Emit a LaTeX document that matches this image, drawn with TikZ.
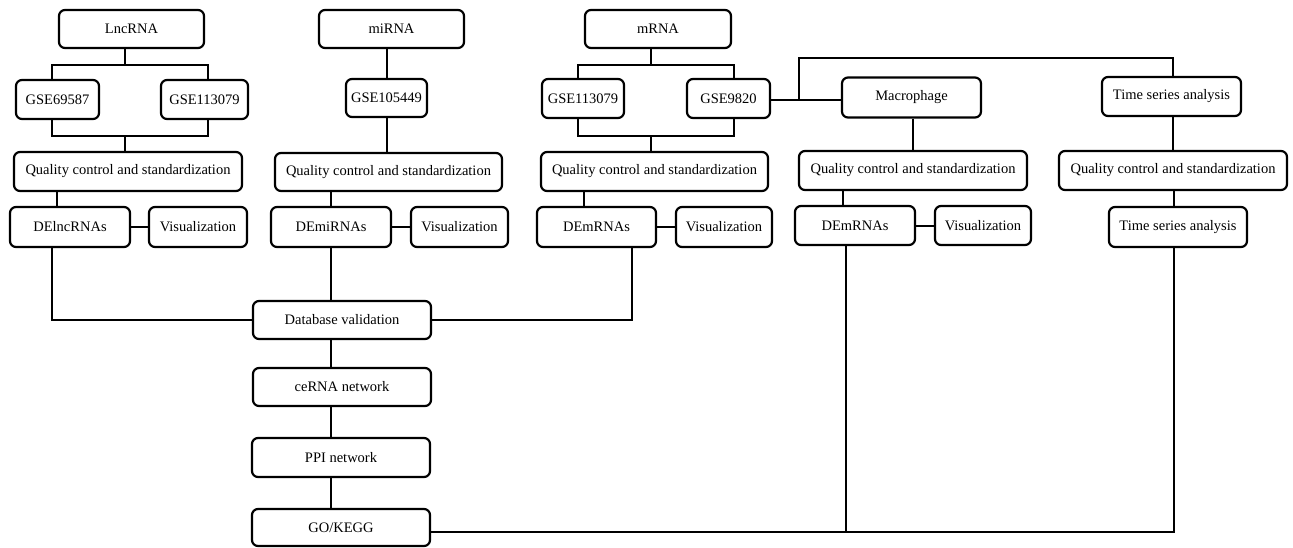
\documentclass[tikz,border=0pt]{standalone}
\usepackage{fontspec}
\setmainfont{Liberation Serif}
\usetikzlibrary{calc}
\begin{document}
\begin{tikzpicture}[x=1pt,y=-1pt,
  box/.style={draw=black, line width=2.2pt, rounded corners=6pt, fill=white,
    inner sep=0pt, minimum height=39pt, font=\fontsize{14.5}{17}\selectfont},
  link/.style={draw=black, line width=2pt}]
\useasboundingbox (0,0) rectangle (1293,547);
% column 1
\node[box, minimum width=145pt, minimum height=38pt] (lnc) at (131.5,29) {LncRNA};
\node[box, minimum width=83pt] (g1) at (57.5,99.5) {GSE69587};
\node[box, minimum width=87pt] (g2) at (204.5,99.5) {GSE113079};
\node[box, minimum width=228pt] (qc1) at (128,171.5) {Quality control and standardization};
\node[box, minimum width=120pt, minimum height=40pt] (de1) at (70,227) {DElncRNAs};
\node[box, minimum width=98pt, minimum height=40pt] (vis1) at (198,227) {Visualization};
% column 2
\node[box, minimum width=145pt, minimum height=38pt] (mi) at (391.5,29) {miRNA};
\node[box, minimum width=81pt, minimum height=38pt] (g3) at (386.5,98) {GSE105449};
\node[box, minimum width=227pt, minimum height=38pt] (qc2) at (388.5,172) {Quality control and standardization};
\node[box, minimum width=120pt, minimum height=40pt] (de2) at (331,227) {DEmiRNAs};
\node[box, minimum width=97pt, minimum height=40pt] (vis2) at (459.5,227) {Visualization};
% column 3
\node[box, minimum width=146pt, minimum height=38pt] (m) at (658,29) {mRNA};
\node[box, minimum width=82pt] (g4) at (583,98.5) {GSE113079};
\node[box, minimum width=83pt] (g5) at (728.5,98.5) {GSE9820};
\node[box, minimum width=227pt] (qc3) at (654.5,171.5) {Quality control and standardization};
\node[box, minimum width=119pt, minimum height=40pt] (de3) at (596.5,227) {DEmRNAs};
\node[box, minimum width=96pt, minimum height=40pt] (vis3) at (724,227) {Visualization};
% column 4
\node[box, minimum width=139pt, minimum height=40pt] (mac) at (911.5,97.5) {Macrophage};
\node[box, minimum width=228pt] (qc4) at (913,170.5) {Quality control and standardization};
\node[box, minimum width=120pt] (de4) at (855,225.5) {DEmRNAs};
\node[box, minimum width=96pt] (vis4) at (983,225.5) {Visualization};
% column 5
\node[box, minimum width=139pt] (ts1) at (1171.5,96.5) {Time series analysis};
\node[box, minimum width=228pt] (qc5) at (1173,170.5) {Quality control and standardization};
\node[box, minimum width=138pt, minimum height=40pt] (ts2) at (1178,227) {Time series analysis};
% centre chain
\node[box, minimum width=178pt, minimum height=38pt] (db) at (342,320) {Database validation};
\node[box, minimum width=178pt, minimum height=38pt] (ce) at (342,387) {ceRNA network};
\node[box, minimum width=178pt, minimum height=39pt] (ppi) at (341,457.5) {PPI network};
\node[box, minimum width=178pt, minimum height=37pt] (go) at (341,527.5) {GO/KEGG};
% bus points
\coordinate (b1) at (125,65);
\coordinate (b2) at (125,136);
\coordinate (b3) at (651,65);
\coordinate (b4) at (651,136);
\begin{scope}[every path/.style={link}]
% column 1
\draw ([xshift=-6.5pt]lnc.south) -- (b1);
\draw ([xshift=-5.5pt]g1.north) |- (b1) -| ([xshift=3.5pt]g2.north);
\draw ([xshift=-5.5pt]g1.south) |- (b2) -| ([xshift=3.5pt]g2.south);
\draw (b2) -- (b2 |- qc1.north);
\draw ([xshift=-13pt]de1.north) -- ([xshift=-13pt]de1.north |- qc1.south);
\draw (de1.east) -- (vis1.west);
\draw ([xshift=-18pt]de1.south) |- (db.west);
% column 2
\draw ([xshift=-4.5pt]mi.south) -- ([xshift=-4.5pt]mi.south |- g3.north);
\draw (g3.south) -- (g3.south |- qc2.north);
\draw (de2.north) -- (de2.north |- qc2.south);
\draw (de2.east) -- (vis2.west);
\draw (de2.south) -- (de2.south |- db.north);
\draw (db.south -| de2.south) -- (ce.north -| de2.south);
\draw (ce.south -| de2.south) -- (ppi.north -| de2.south);
\draw (ppi.south -| de2.south) -- (go.north -| de2.south);
% column 3
\draw ([xshift=-7pt]m.south) -- (b3);
\draw ([xshift=-5pt]g4.north) |- (b3) -| ([xshift=5.5pt]g5.north);
\draw ([xshift=-5pt]g4.south) |- (b4) -| ([xshift=5.5pt]g5.south);
\draw (b4) -- (b4 |- qc3.north);
\draw ([xshift=-12.5pt]de3.north) -- ([xshift=-12.5pt]de3.north |- qc3.south);
\draw (de3.east) -- (vis3.west);
\draw ([xshift=35.5pt]de3.south) |- (db.east);
% mRNA to macrophage and time series
\coordinate (j) at ([xshift=28pt,yshift=-1pt]g5.east);
\draw ([yshift=-1pt]g5.east) -- (mac.west |- j);
\draw (j) -- ([yshift=42pt]j) -| ([xshift=1.5pt]ts1.north);
% column 4
\draw ([xshift=1.5pt]mac.south) -- ([xshift=1.5pt]mac.south |- qc4.north);
\draw ([xshift=-12pt]de4.north) -- ([xshift=-12pt]de4.north |- qc4.south);
\draw (de4.east) -- (vis4.west);
% column 5
\draw ([xshift=1.5pt]ts1.south) -- ([xshift=1.5pt]ts1.south |- qc5.north);
\draw ([xshift=-4pt]ts2.north) -- ([xshift=-4pt]ts2.north |- qc5.south);
% bottom bus
\coordinate (gb) at ([yshift=-4.5pt]go.east);
\draw (gb) -| ([xshift=-4pt]ts2.south);
\draw ([xshift=-9pt]de4.south) -- ([xshift=-9pt]de4.south |- gb);
\end{scope}
\end{tikzpicture}
\end{document}
